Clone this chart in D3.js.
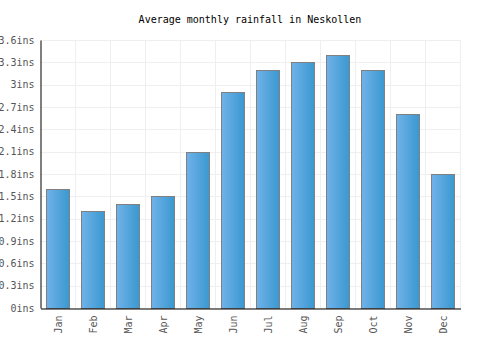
<!DOCTYPE html>
<html>
<head>
<meta charset="utf-8">
<script src="https://cdn.jsdelivr.net/npm/d3@7"></script>
<style>
body { margin: 0; background: #fff; }
text { font-family: "DejaVu Sans Mono", monospace; }
</style>
</head>
<body>
<div class="container"></div>
<script>
const WIDTH = 500;
const HEIGHT = 350;
const LEFT = 40.5;
const RIGHT = 460.5;
const TOP = 40;
const BOTTOM = 308;

var months = ['Jan', 'Feb', 'Mar', 'Apr', 'May', 'Jun', 'Jul', 'Aug', 'Sep', 'Oct', 'Nov', 'Dec'];
var rainfall = [1.6, 1.3, 1.4, 1.5, 2.1, 2.9, 3.2, 3.3, 3.4, 3.2, 2.6, 1.8];
var yTicks = [0, 0.3, 0.6, 0.9, 1.2, 1.5, 1.8, 2.1, 2.4, 2.7, 3, 3.3, 3.6];

var xScale = d3.scaleBand().domain(months).range([LEFT, RIGHT]).paddingInner(0.33).paddingOuter(0.165);
var yScale = d3.scaleLinear().domain([0, 3.6]).range([BOTTOM, TOP]);

var svg = d3.select('.container').append('svg').attr('width', WIDTH).attr('height', HEIGHT);

var grad = svg.append('defs').append('linearGradient').attr('id', 'barGrad')
    .attr('x1', '0%').attr('x2', '100%').attr('y1', '0%').attr('y2', '0%');
grad.append('stop').attr('offset', '0%').attr('stop-color', '#70b2e9');
grad.append('stop').attr('offset', '100%').attr('stop-color', '#3a98d0');

// grid
var band = (RIGHT - LEFT) / months.length;
svg.append('g').selectAll('line.v')
    .data(d3.range(1, months.length + 1))
    .enter().append('line')
    .attr('x1', function (i) { return Math.round(LEFT + i * band) - 0.5; })
    .attr('x2', function (i) { return Math.round(LEFT + i * band) - 0.5; })
    .attr('y1', TOP).attr('y2', BOTTOM)
    .attr('stroke', '#efefef');

svg.append('g').selectAll('line.h')
    .data(yTicks)
    .enter().append('line')
    .attr('x1', LEFT).attr('x2', RIGHT)
    .attr('y1', function (d) { return Math.round(yScale(d)) + 0.5; })
    .attr('y2', function (d) { return Math.round(yScale(d)) + 0.5; })
    .attr('stroke', '#efefef');

// bars
svg.append('g').selectAll('rect')
    .data(rainfall)
    .enter().append('rect')
    .attr('x', function (d, i) { return Math.round(xScale(months[i])) + 0.5; })
    .attr('y', function (d) { return Math.round(yScale(d)) + 0.5; })
    .attr('width', Math.round(xScale.bandwidth()))
    .attr('height', function (d) { return BOTTOM - Math.round(yScale(d)); })
    .attr('fill', 'url(#barGrad)')
    .attr('stroke', '#808080')
    .attr('stroke-width', 1);

// axes
var yAxis = d3.axisLeft(yScale).tickValues(yTicks).tickSize(0).tickPadding(6)
    .tickFormat(function (d) { return d3.format('~g')(d) + 'ins'; });
var gy = svg.append('g').attr('transform', 'translate(' + LEFT + ',0)').call(yAxis);
gy.select('.domain').attr('stroke', '#000');
gy.selectAll('text').attr('font-size', 10).attr('fill', '#555').attr('font-family', '"DejaVu Sans Mono", monospace');

var xAxis = d3.axisBottom(xScale).tickSize(0);
var gx = svg.append('g').attr('transform', 'translate(0,' + (BOTTOM + 0.5) + ')').call(xAxis);
gx.select('.domain').attr('stroke', '#000');
gx.selectAll('text')
    .attr('font-size', 10).attr('fill', '#555').attr('font-family', '"DejaVu Sans Mono", monospace')
    .attr('transform', 'rotate(-90)')
    .attr('text-anchor', 'end')
    .attr('x', -7).attr('y', 0).attr('dy', '0.35em');

svg.append('text')
    .attr('x', 250).attr('y', 23)
    .attr('text-anchor', 'middle')
    .attr('font-size', 10)
    .attr('fill', '#000')
    .text('Average monthly rainfall in Neskollen');
</script>
</body>
</html>
